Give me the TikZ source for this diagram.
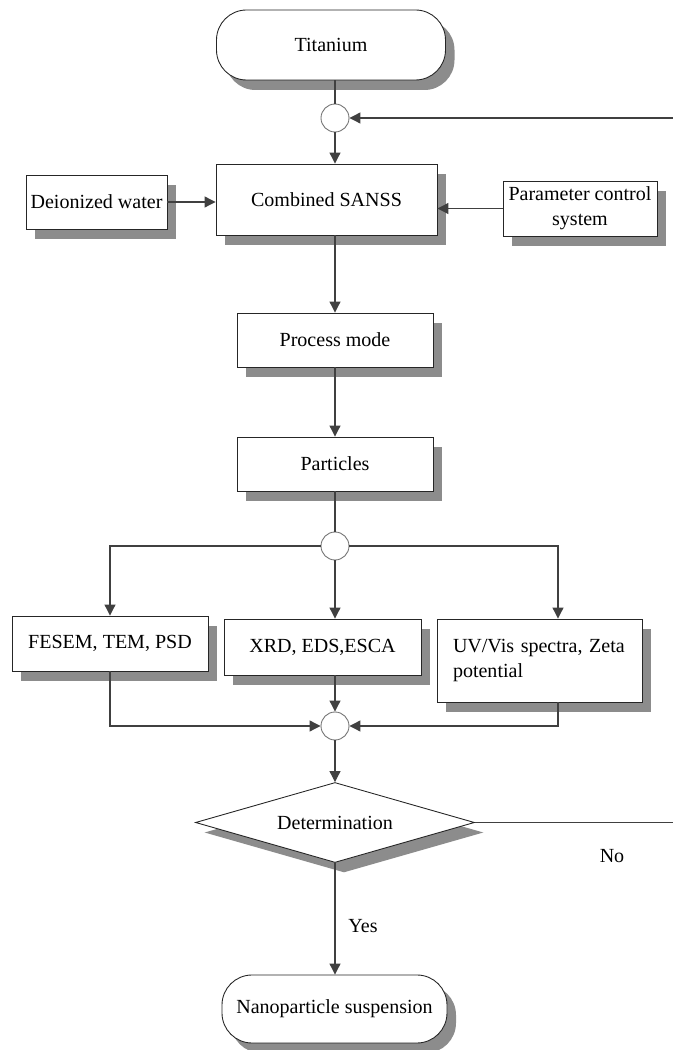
\documentclass[tikz,border=0pt]{standalone}
\usepackage{fontspec}
\setmainfont{Liberation Serif}
\usetikzlibrary{shapes.geometric, shadows, arrows.meta}

\begin{document}
\begin{tikzpicture}[>={Triangle[length=2.2mm,width=2.2mm]},
  font=\fontsize{11.4}{14}\selectfont,
  cast/.style={drop shadow={shadow xshift=0.18cm, shadow yshift=-0.2cm, fill=black!45, opacity=1}},
  box/.style={rectangle, draw=black!85, fill=white, line width=0.5pt, inner sep=2pt, cast},
  term/.style={box, rounded corners=0.6cm},
  joint/.style={circle, draw=black!55, fill=white, line width=0.5pt, minimum size=0.56cm, inner sep=0pt},
  decide/.style={diamond, draw=black!85, fill=white, line width=0.5pt, aspect=3.5,
                 minimum width=5.58cm, minimum height=1.6cm, inner sep=0pt, cast},
  link/.style={draw=black!75, line width=0.6pt}]

  \useasboundingbox (0,0) rectangle (13.46,21);

  \node (tit) at (6.62,20.1) [term, minimum width=4.58cm, minimum height=1.4cm] {Titanium};
  \node (j1) at (6.7,18.64) [joint] {};
  \coordinate (back) at (13.46,18.64);
  \node (sanss) at (6.53,17.01) [box, minimum width=4.42cm, minimum height=1.42cm] {Combined SANSS};
  \node (water) at (1.93,16.96) [box, minimum width=2.82cm, minimum height=1.08cm] {Deionized water};
  \node (param) at (11.6,16.83) [box, minimum width=3.08cm, minimum height=1.1cm, align=center] {Parameter control\\system};
  \node (mode) at (6.7,14.2) [box, minimum width=3.92cm, minimum height=1.08cm] {Process mode};
  \node (part) at (6.7,11.72) [box, minimum width=3.92cm, minimum height=1.08cm] {Particles};
  \node (j2) at (6.7,10.08) [joint] {};
  \node (fesem) at (2.2,8.13) [box, minimum width=3.92cm, minimum height=1.1cm] {FESEM, TEM, PSD};
  \node (xrd) at (6.45,8.06) [box, minimum width=3.94cm, minimum height=1.12cm] {XRD, EDS,ESCA};
  \node (uv) at (10.79,7.79) [box, minimum width=4.1cm, minimum height=1.66cm, text width=3.46cm, align=left] {UV/Vis spectra, Zeta\\potential};
  \node (j3) at (6.7,6.48) [joint] {};
  \node (det) at (6.7,4.55) [decide] {Determination};
  \coordinate (no) at (13.46,4.55);
  \node (nano) at (6.69,0.82) [term, minimum width=4.5cm, minimum height=1.36cm] {Nanoparticle suspension};
  \node (yes) at (7.26,2.48) {Yes};
  \node (nolab) at (12.24,3.88) {No};

  \draw [link] (tit.south -| j1) -- (j1);
  \draw [->, link] (j1) -- (sanss.north -| j1);
  \draw [->, link] (back) -- (j1);
  \draw [->, link] (water.east) -- (water.east -| sanss.west);
  \draw [->, link] (param.west) -- (param.west -| sanss.east);
  \draw [->, link] (sanss.south -| j1) -- (mode.north -| j1);
  \draw [->, link] (mode) -- (part);
  \draw [link] (part) -- (j2);
  \draw [->, link] (j2) -| (fesem);
  \draw [->, link] (j2) -- (xrd.north -| j2);
  \draw [->, link] (j2) -| ([xshift=0.37cm]uv.north);
  \draw [->, link] (fesem) |- (j3);
  \draw [->, link] (xrd.south -| j3) -- (j3);
  \draw [->, link] ([xshift=0.37cm]uv.south) |- (j3);
  \draw [->, link] (j3) -- (det);
  \draw [link] (det.east) -- (no);
  \draw [->, link] (det) -- (nano.north -| det);
\end{tikzpicture}
\end{document}
